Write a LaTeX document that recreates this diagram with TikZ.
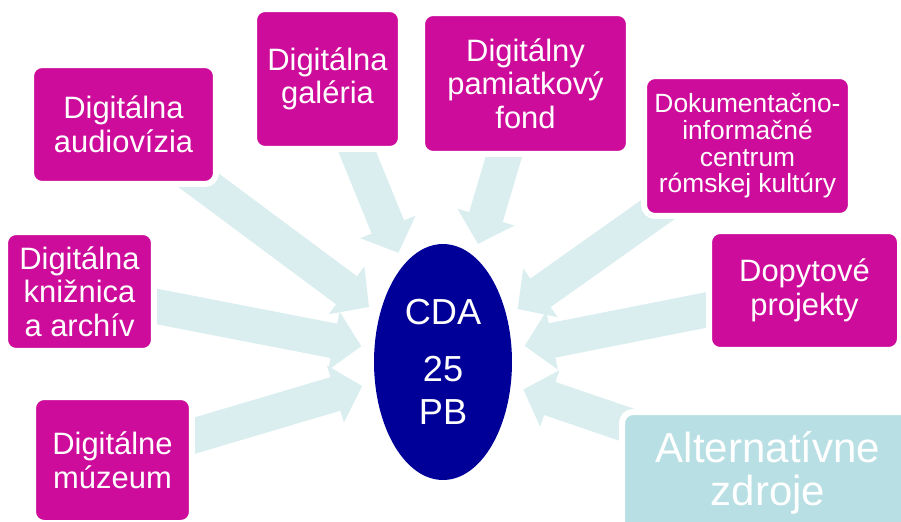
\documentclass[tikz,border=0pt]{standalone}
\usepackage{fontspec}
\setmainfont{Liberation Sans}
\usetikzlibrary{shapes.geometric, arrows.meta, backgrounds}
\definecolor{cdamagenta}{RGB}{205,12,155}
\definecolor{cdablue}{RGB}{0,0,153}
\definecolor{cdaflow}{RGB}{218,237,239}
\definecolor{cdateal}{RGB}{184,223,227}
\tikzstyle{block} = [draw=white, line width=0.12cm, fill=cdamagenta, rectangle, rounded corners=0.22cm, text=white, align=center, inner sep=0pt, font=\fontsize{17.6}{19.1}\selectfont]
\tikzstyle{small} = [font=\fontsize{15}{15.2}\selectfont]
\tikzstyle{flow} = [draw=cdaflow, line width=0.7cm, shorten >=0.26cm]

\begin{document}
\begin{tikzpicture}[x=0.02cm,y=-0.02cm,>={Triangle[width=1.16cm,length=0.56cm]}]
  \useasboundingbox (0,0) rectangle (901,521);
  \node [ellipse, fill=cdablue, text=white, align=center, inner sep=0pt, minimum width=2.76cm, minimum height=4.72cm, font=\fontsize{20.6}{24.9}\selectfont] (cda) at (443,362) {CDA\\[7.4pt]25\\PB};
  \node [block, minimum width=3.70cm, minimum height=2.38cm] (audio) at (123.5,124.5) {Digitálna\\audiovízia};
  \node [block, minimum width=2.94cm, minimum height=2.80cm] (galeria) at (327.5,79) {Digitálna\\galéria};
  \node [block, minimum width=4.14cm, minimum height=2.82cm] (fond) at (525.5,83.5) {Digitálny\\pamiatkový\\fond};
  \node [block, small, minimum width=4.14cm, minimum height=2.80cm] (romske) at (747.5,146) {Dokumentačno-\\informačné\\centrum\\rómskej kultúry};
  \node [block, minimum width=3.82cm, minimum height=2.38cm] (dopyt) at (804.5,290.5) {Dopytové\\projekty};
  \node [block, fill=cdateal, minimum width=5.84cm, minimum height=2.44cm, font=\fontsize{23.9}{24.9}\selectfont] (alt) at (768,473) {Alternatívne\\zdroje};
  \node [block, minimum width=2.98cm, minimum height=2.38cm] (kniznica) at (79.5,291.5) {Digitálna\\knižnica\\a archív};
  \node [block, minimum width=3.18cm, minimum height=2.52cm] (muzeum) at (112.5,460) {Digitálne\\múzeum};
  \begin{scope}[on background layer]
    \foreach \src in {audio, galeria, fond, romske, dopyt, alt, kniznica, muzeum}
      \draw [->, flow] (\src.center) -- (cda);
  \end{scope}
\end{tikzpicture}
\end{document}
